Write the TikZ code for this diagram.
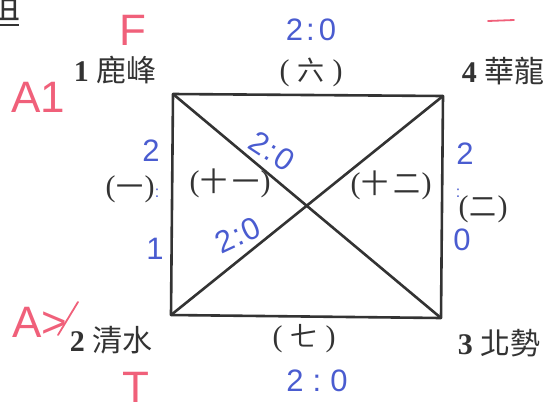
\documentclass[tikz,border=0pt]{standalone}
\usepackage{fontspec}
\setmainfont{Liberation Serif}
\newfontfamily\cjk{Noto Sans CJK TC}
\newfontfamily\hand{Liberation Sans}
\definecolor{ink}{HTML}{333333}
\definecolor{bluepen}{HTML}{4A5CD0}
\definecolor{redpen}{HTML}{F0607A}
\newcommand{\gamelbl}[2]{{\fontsize{30}{32}\selectfont(}\hspace{#2}{\cjk\fontsize{27}{30}\selectfont #1}\hspace{#2}{\fontsize{30}{32}\selectfont)}}
\tikzset{
  edge/.style={draw=ink, line width=2.6pt, line cap=round, line join=round},
  team/.style={inner sep=0pt, text=ink, font=\fontsize{30}{34}\selectfont},
  game/.style={inner sep=0pt, text=ink},
  score/.style={inner sep=0pt, text=bluepen, font=\hand\fontsize{31}{34}\selectfont},
  smallcolon/.style={inner sep=0pt, text=bluepen, font=\hand\fontsize{16}{18}\selectfont},
  redmark/.style={inner sep=0pt, text=redpen, font=\hand\fontsize{44}{48}\selectfont}
}
\begin{document}
\begin{tikzpicture}[x=1pt,y=-1pt]
\useasboundingbox (0,0) rectangle (547,408);
% corners
\coordinate (tl) at (173,94);
\coordinate (tr) at (443,96);
\coordinate (br) at (441,318);
\coordinate (bl) at (171,315);
\draw[edge] (tl) -- (tr) -- (br) -- (bl) -- cycle;
\draw[edge] (tl) -- (br);
\draw[edge] (tr) -- (bl);
% clipped heading
\node[inner sep=0pt, text=ink, anchor=base east, font=\cjk\fontsize{36}{40}\selectfont] (head) at (21,18) {組};
\draw[ink, line width=2pt] (0,25) -- (19,25);
% teams
\node[team] (t1) at (115,70) {\textbf{1} {\cjk 鹿峰}};
\node[team] (t4) at (503,71) {\textbf{4} {\cjk 華龍}};
\node[team] (t2) at (111,340) {\textbf{2} {\cjk 清水}};
\node[team] (t3) at (499,343) {\textbf{3} {\cjk 北勢}};
% game labels
\node[game] (g6) at (311,72) {\gamelbl{六}{8pt}};
\node[game] (g7) at (304,339) {\gamelbl{七}{8pt}};
\node[game] (g1) at (130,189) {\gamelbl{一}{1pt}};
\node[game] (g2) at (483,209) {\gamelbl{二}{1pt}};
\node[game] (g11) at (230,183) {\gamelbl{十\hspace{5pt}一}{1pt}};
\node[game] (g12) at (391,185) {\gamelbl{十\hspace{5pt}二}{1pt}};
% blue scores
\node[score] (s6) at (311,30) {2\kern3pt:\kern4pt0};
\node[score] (s7) at (317,381) {2\hspace{9pt}:\hspace{9pt}0};
\node[score, rotate=-33] (s12) at (272,151) {2\kern1pt:\kern2pt0};
\node[score, rotate=25] (s11) at (238,235) {2\kern1pt:\kern2pt0};
\node[score] (s1a) at (151,151) {2};
\node[smallcolon] (s1b) at (157,193) {:};
\node[score] (s1c) at (155,249) {1};
\node[score] (s2a) at (465,154) {2};
\node[smallcolon] (s2b) at (458,193) {:};
\node[score] (s2c) at (462,240) {0};
% red marks
\node[redmark] (mF) at (133,30) {F};
\node[redmark] (mA1) at (38,97) {A1};
\node[redmark] (mA2) at (40,322) {A>};
\draw[redpen, line width=1.8pt, line cap=round] (58,335) -- (78,302);
\node[redmark] (mT) at (136,387) {T};
\draw[redpen, line width=1.8pt, line cap=round] (488,21) -- (514,20);
\end{tikzpicture}
\end{document}
